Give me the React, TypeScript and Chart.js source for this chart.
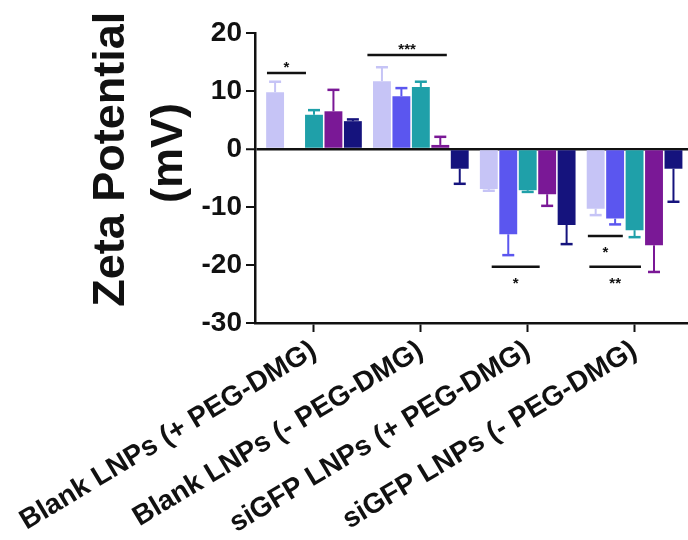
import React, { useEffect, useRef } from 'react';
import { Chart, registerables } from 'chart.js';

Chart.register(...registerables);

const categories = [
  'Blank LNPs (+ PEG-DMG)',
  'Blank LNPs (- PEG-DMG)',
  'siGFP LNPs (+ PEG-DMG)',
  'siGFP LNPs (- PEG-DMG)',
];
const seriesColors = ['#c6c4f6', '#5b56ef', '#1fa0a9', '#7a1896', '#15137d'];

const series1 = [9.8, 11.7, -6.9, -10.3];
const series1Err = [1.8, 2.4, 0.3, 1.1];
const series2 = [null, 9.1, -14.7, -12.0];
const series2Err = [null, 1.4, 3.6, 1.0];
const series3 = [5.9, 10.7, -7.1, -14.0];
const series3Err = [0.8, 0.9, 0.3, 1.2];
const series4 = [6.5, 0.7, -7.8, -16.6];
const series4Err = [3.7, 1.4, 2.0, 4.6];
const series5 = [4.8, -3.4, -13.1, -3.4];
const series5Err = [0.3, 2.6, 3.3, 5.7];

const seriesValues = [series1, series2, series3, series4, series5];
const seriesErrors = [series1Err, series2Err, series3Err, series4Err, series5Err];

const yMin = -30;
const yMax = 20;
const yStep = 10;

const yTitleLines = ['Zeta Potential', '(mV)'];

// significance brackets (x in category units, y in mV)
const sigStart = [-0.44, 0.5, 1.663, 2.563, 2.577];
const sigEnd = [-0.075, 1.243, 2.112, 2.89, 3.06];
const sigY = [13.1, 16.2, -20.3, -15, -20.3];
const sigLabel = ['*', '***', '*', '*', '**'];
const sigAbove = [true, true, false, false, false];

const FONT = "'Liberation Sans', Arial, sans-serif";

const errorBarPlugin = {
  id: 'errorBars',
  afterDatasetsDraw(chart: any) {
    const ctx = chart.ctx;
    const yScale = chart.scales.y;
    ctx.save();
    chart.data.datasets.forEach((ds: any, di: number) => {
      const meta = chart.getDatasetMeta(di);
      const errs = seriesErrors[di];
      meta.data.forEach((el: any, i: number) => {
        const v = seriesValues[di][i];
        const e = errs[i];
        if (v === null || e === null || v === undefined) return;
        const sign = v >= 0 ? 1 : -1;
        const yEnd = yScale.getPixelForValue(v + sign * e);
        const yStart = yScale.getPixelForValue(v);
        ctx.strokeStyle = ds.backgroundColor;
        ctx.lineWidth = 2;
        ctx.beginPath();
        ctx.moveTo(el.x, yStart);
        ctx.lineTo(el.x, yEnd);
        ctx.stroke();
        ctx.lineWidth = 2.5;
        ctx.beginPath();
        ctx.moveTo(el.x - 6, yEnd);
        ctx.lineTo(el.x + 6, yEnd);
        ctx.stroke();
      });
    });
    ctx.restore();
  },
};

const sigPlugin = {
  id: 'sigBars',
  afterDatasetsDraw(chart: any) {
    const ctx = chart.ctx;
    const xs = chart.scales.x;
    const ys = chart.scales.y;
    ctx.save();
    ctx.strokeStyle = '#111';
    ctx.fillStyle = '#111';
    ctx.lineWidth = 2.5;
    ctx.font = `bold 15px ${FONT}`;
    ctx.textAlign = 'center';
    ctx.textBaseline = 'alphabetic';
    sigLabel.forEach((lab, i) => {
      const x0 = xs.getPixelForValue(sigStart[i]);
      const x1 = xs.getPixelForValue(sigEnd[i]);
      const y = ys.getPixelForValue(sigY[i]);
      ctx.beginPath();
      ctx.moveTo(x0, y);
      ctx.lineTo(x1, y);
      ctx.stroke();
      const cx = (x0 + x1) / 2;
      if (sigAbove[i]) {
        ctx.fillText(lab, cx, y - 1);
      } else {
        ctx.fillText(lab, cx, y + 21);
      }
    });
    ctx.restore();
  },
};

export default function App() {
  const ref = useRef<HTMLCanvasElement | null>(null);

  useEffect(() => {
    if (!ref.current) return;
    const chart = new Chart(ref.current, {
      type: 'bar',
      data: {
        datasets: seriesValues.map((vals, si) => ({
          label: `Series ${si + 1}`,
          data: vals.map((v, i) => ({ x: i, y: v })),
          backgroundColor: seriesColors[si],
          borderWidth: 0,
          categoryPercentage: 0.91,
          barPercentage: 0.92,
        })),
      },
      options: {
        responsive: false,
        animation: false,
        layout: { padding: { top: 33, left: 0, right: 0, bottom: 0 } },
        plugins: {
          legend: { display: false },
          tooltip: { enabled: false },
        },
        scales: {
          x: {
            type: 'linear',
            min: -0.552,
            max: 3.5,
            offset: false,
            afterBuildTicks: (s: any) => {
              s.ticks = categories.map((_, i) => ({ value: i }));
            },
            afterFit: (s: any) => {
              s.height = 540 - 323;
              s.paddingLeft = 0;
              s.paddingRight = 0;
            },
            grid: {
              offset: false,
              drawOnChartArea: false,
              color: '#111',
              tickColor: '#111',
              tickLength: 9,
              tickWidth: 2,
            },
            border: { display: true, color: '#111', width: 2.5 },
            ticks: {
              autoSkip: false,
              minRotation: 31,
              maxRotation: 31,
              padding: 2,
              color: '#111',
              font: { family: FONT, size: 28, weight: 'bold' },
              callback: (value: any) => categories[value as number] ?? '',
            },
          },
          y: {
            min: yMin,
            max: yMax,
            afterFit: (s: any) => {
              s.width = 255;
            },
            grid: {
              color: (c: any) => (c.tick && c.tick.value === 0 ? '#111' : 'rgba(0,0,0,0)'),
              lineWidth: (c: any) => (c.tick && c.tick.value === 0 ? 2.5 : 0),
              tickColor: '#111',
              tickLength: 9,
              tickWidth: 2,
            },
            border: { display: true, color: '#111', width: 2.5 },
            ticks: {
              stepSize: yStep,
              padding: 4,
              color: '#111',
              font: { family: FONT, size: 28, weight: 'bold' },
            },
            title: {
              display: true,
              text: ['   ' + yTitleLines[0], '    ' + yTitleLines[1]],
              color: '#111',
              font: { family: FONT, size: 45, weight: 'bold', lineHeight: 1.3 },
              padding: { top: 82, bottom: 0 },
            },
          },
        },
      },
      plugins: [errorBarPlugin, sigPlugin],
    } as any);
    return () => chart.destroy();
  }, []);

  return (
    <div style={{ position: 'absolute', left: 0, top: 0, width: 688, height: 540, background: '#fff' }}>
      <canvas ref={ref} width={688} height={540} style={{ display: 'block' }} />
    </div>
  );
}
